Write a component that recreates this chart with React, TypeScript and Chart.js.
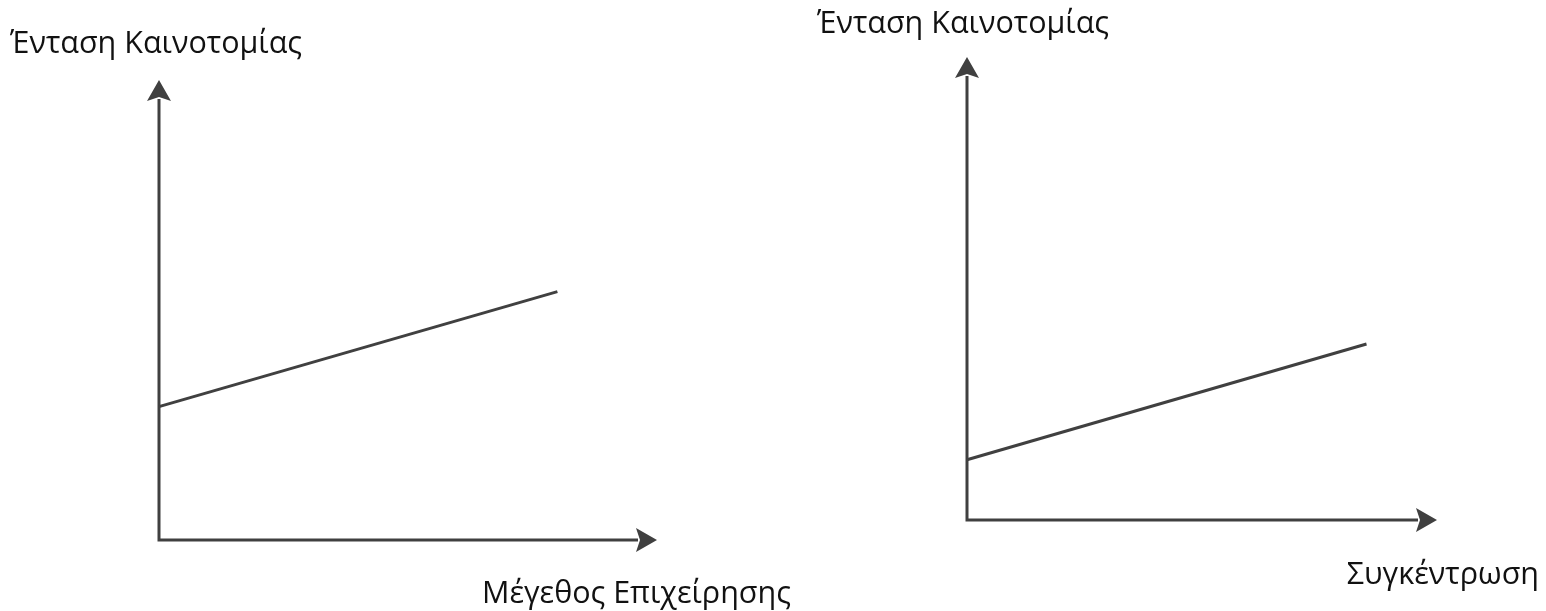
import React, { useEffect, useRef } from "react";
import { Chart, registerables } from "chart.js";
Chart.register(...registerables);

// Left panel: innovation intensity vs firm size
const leftX = [0, 8];
const leftY = [2.9, 5.4];
const leftXTitle = "Μέγεθος Επιχείρησης";
const leftYTitle = "Ένταση Καινοτομίας";
// Right panel: innovation intensity vs concentration
const rightX = [0, 8.5];
const rightY = [1.3, 3.8];
const rightXTitle = "Συγκέντρωση";
const rightYTitle = "Ένταση Καινοτομίας";

const AXIS_COLOR = "#404040";
const FONT = "30.5px 'Open Sans'";
const SPLIT = 800;

type Labels = {
  yTitle: string; yTitleX: number; yTitleBase: number;
  xTitle: string; xTitleX: number; xTitleBase: number; xAlign: CanvasTextAlign;
};

function makePlugin(lb: Labels) {
  return {
    id: "arrowAxes",
    beforeDatasetsDraw(chart: any) {
      const { ctx, chartArea } = chart;
      const { left, right, top, bottom } = chartArea;
      const len = 21, half = 12, notch = 4;
      ctx.save();
      ctx.strokeStyle = AXIS_COLOR;
      ctx.fillStyle = AXIS_COLOR;
      ctx.lineWidth = 3;
      ctx.beginPath();
      ctx.moveTo(left, top + len - 2);
      ctx.lineTo(left, bottom);
      ctx.lineTo(right - len + 2, bottom);
      ctx.stroke();
      // up arrow
      ctx.beginPath();
      ctx.moveTo(left, top);
      ctx.lineTo(left + half, top + len);
      ctx.lineTo(left, top + len - notch);
      ctx.lineTo(left - half, top + len);
      ctx.closePath();
      ctx.fill();
      // right arrow
      ctx.beginPath();
      ctx.moveTo(right, bottom);
      ctx.lineTo(right - len, bottom - half);
      ctx.lineTo(right - len + notch, bottom);
      ctx.lineTo(right - len, bottom + half);
      ctx.closePath();
      ctx.fill();
      // titles
      ctx.fillStyle = "#111";
      ctx.font = FONT;
      ctx.textBaseline = "alphabetic";
      ctx.textAlign = "left";
      ctx.fillText(lb.yTitle, lb.yTitleX, lb.yTitleBase);
      ctx.textAlign = lb.xAlign;
      ctx.fillText(lb.xTitle, lb.xTitleX, lb.xTitleBase);
      ctx.restore();
    },
  };
}

function Panel(props: {
  xs: number[]; ys: number[]; xMax: number; yMax: number;
  padding: { left: number; right: number; top: number; bottom: number };
  labels: Labels; offsetX: number; width: number;
}) {
  const ref = useRef<HTMLCanvasElement | null>(null);
  useEffect(() => {
    if (!ref.current) return;
    const chart = new Chart(ref.current, {
      type: "line",
      data: {
        datasets: [
          {
            data: props.xs.map((x, i) => ({ x, y: props.ys[i] })),
            borderColor: AXIS_COLOR,
            borderWidth: 3,
            pointRadius: 0,
            fill: false,
            clip: false as any,
          },
        ],
      },
      options: {
        animation: false,
        responsive: false,
        layout: { padding: props.padding },
        plugins: { legend: { display: false }, tooltip: { enabled: false } },
        scales: {
          x: { type: "linear", min: 0, max: props.xMax, display: false },
          y: { type: "linear", min: 0, max: props.yMax, display: false },
        },
      },
      plugins: [makePlugin(props.labels)],
    });
    return () => chart.destroy();
  }, []);
  return (
    <canvas
      ref={ref}
      width={props.width}
      height={611}
      style={{ position: "absolute", left: props.offsetX, top: 0, width: props.width, height: 611 }}
    />
  );
}

export default function App() {
  return (
    <div style={{ position: "fixed", left: 0, top: 0, width: 1546, height: 611, background: "#fff" }}>
      <Panel
        xs={leftX}
        ys={leftY}
        xMax={10}
        yMax={10}
        width={SPLIT}
        padding={{ left: 159, right: SPLIT - 657, top: 80, bottom: 611 - 540 }}
        labels={{
          yTitle: leftYTitle, yTitleX: 10, yTitleBase: 53,
          xTitle: leftXTitle, xTitleX: 482, xTitleBase: 603, xAlign: "left",
        }}
        offsetX={0}
      />
      <Panel
        xs={rightX}
        ys={rightY}
        xMax={10}
        yMax={10}
        width={1546 - SPLIT}
        padding={{ left: 967 - SPLIT, right: 1546 - 1437, top: 57, bottom: 611 - 520 }}
        labels={{
          yTitle: rightYTitle, yTitleX: 817 - SPLIT, yTitleBase: 33,
          xTitle: rightXTitle, xTitleX: 1539 - SPLIT, xTitleBase: 584, xAlign: "right",
        }}
        offsetX={SPLIT}
      />
    </div>
  );
}
